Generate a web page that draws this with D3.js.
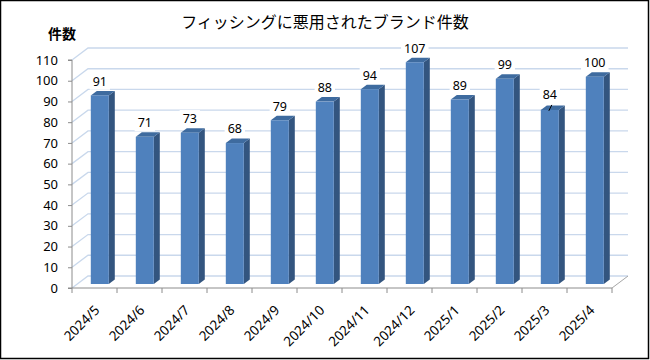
<!DOCTYPE html>
<html><head><meta charset="utf-8">
<script src="https://cdn.jsdelivr.net/npm/d3@7"></script>
<style>body{margin:0;background:#fff}svg{display:block}</style>
</head><body>
<svg id="c" width="650" height="360"></svg>
<script>
const categories = ["2024/5","2024/6","2024/7","2024/8","2024/9","2024/10","2024/11","2024/12","2025/1","2025/2","2025/3","2025/4"];
const values = [91,71,73,68,79,88,94,107,89,99,84,100];
const yTicks = [0,10,20,30,40,50,60,70,80,90,100,110];
const leaderCats = ["2025/3"];
const title = "フィッシングに悪用されたブランド件数";
const yTitle = "件数";

const W = 650, H = 360;
const svg = d3.select("#c");
const font = "'Noto Sans','Noto Sans CJK JP',sans-serif";

// frame
svg.append("rect").attr("x",0.5).attr("y",0.5).attr("width",W-2).attr("height",H-2)
  .attr("fill","#fff").attr("stroke","#000").attr("stroke-width",1.5);

const x0 = 72, x1 = 612, yBase = 288, yTop = 60;
const depth = {dx:16, dy:-12};
const x = d3.scaleBand().domain(categories).range([x0,x1]).paddingInner(0).paddingOuter(0);
const y = d3.scaleLinear().domain([0,110]).range([yBase,yTop]);

const grid = "#C9D8EC";
const axisC = "#8C8C8C";

// back wall gridlines + left wall diagonals
const g = svg.append("g");
yTicks.forEach(t=>{
  const yy = y(t);
  g.append("path").attr("d",`M${x0},${yy}L${x0+depth.dx},${yy+depth.dy}L${x1+depth.dx},${yy+depth.dy}`)
    .attr("fill","none").attr("stroke",grid).attr("stroke-width",1.3);
});
g.append("path").attr("d",`M${x1},${yBase}L${x1+depth.dx},${yBase+depth.dy}`).attr("stroke","#A6A6A6").attr("fill","none");

// y axis
const yAxis = d3.axisLeft(y).tickValues(yTicks).tickSize(4).tickPadding(10);
const ya = svg.append("g").attr("transform",`translate(${x0},0)`).call(yAxis);
ya.select(".domain").attr("stroke",axisC).attr("d",`M-4,${yTop}H0V${yBase}H-4`);
ya.selectAll(".tick line").attr("stroke",axisC);
ya.selectAll("text").attr("font-family",font).attr("font-size",13).attr("fill","#000");

// x axis
const xa = svg.append("g").attr("transform",`translate(0,${yBase})`);
xa.append("path").attr("d",`M${x0},0H${x1}`).attr("stroke",axisC);
categories.concat([null]).forEach((c,i)=>{
  const xx = x0 + i*x.bandwidth();
  xa.append("line").attr("x1",xx).attr("x2",xx).attr("y1",0).attr("y2",5).attr("stroke",axisC);
});
categories.forEach(c=>{
  const cx = x(c)+x.bandwidth()/2 + 6;
  xa.append("text").attr("transform",`translate(${cx},${23}) rotate(-45)`)
    .attr("text-anchor","end").attr("font-family",font).attr("font-size",13.5).attr("fill","#000").text(c);
});

// bars
const bw = x.bandwidth()*0.4;
const off = {dx:5.3, dy:-4};
const sd = {dx:6, dy:-4.5};
const bars = svg.append("g");
const labelG = svg.append("g");
categories.forEach((c,i)=>{
  const v = values[i];
  const bx = x(c) + (x.bandwidth()-bw)/2 + off.dx;
  const by0 = y(0) + off.dy;
  const by = y(v) + off.dy;
  bars.append("path").attr("d",`M${bx+bw},${by}L${bx+bw+sd.dx},${by+sd.dy}L${bx+bw+sd.dx},${by0+sd.dy}L${bx+bw},${by0}Z`).attr("fill","#33557F");
  bars.append("path").attr("d",`M${bx},${by}L${bx+sd.dx},${by+sd.dy}L${bx+bw+sd.dx},${by+sd.dy}L${bx+bw},${by}Z`).attr("fill","#3E6B9F");
  bars.append("rect").attr("x",bx).attr("y",by).attr("width",bw).attr("height",by0-by).attr("fill","#4F81BD");
  const lead = leaderCats.includes(c);
  const lx = bx + bw/2, ly = by - (lead ? 15 : 14);
  const lg = labelG.append("g");
  const t = lg.append("text").attr("x",lx).attr("y",ly).attr("dy","0.35em").attr("text-anchor","middle")
    .attr("font-family",font).attr("font-size",12.5).attr("fill","#000").text(v);
  const bb = t.node().getBBox();
  lg.insert("rect","text").attr("x",bb.x-3).attr("y",bb.y).attr("width",bb.width+6).attr("height",bb.height).attr("fill","#fff");
  if (lead) {
    labelG.append("line").attr("x1",lx-1).attr("y1",by+1).attr("x2",lx+2).attr("y2",by-5)
      .attr("stroke","#000").attr("stroke-width",1);
  }
});

// titles
svg.append("text").attr("x",325).attr("y",22).attr("dy","0.35em").attr("text-anchor","middle")
  .attr("font-family","'Noto Sans CJK JP',sans-serif").attr("font-size",16).attr("fill","#000").text(title);
svg.append("text").attr("x",62).attr("y",34).attr("dy","0.35em").attr("text-anchor","middle")
  .attr("font-family","'Noto Sans CJK JP',sans-serif").attr("font-weight","bold").attr("font-size",14).attr("fill","#000").text(yTitle);
</script>
</body></html>
